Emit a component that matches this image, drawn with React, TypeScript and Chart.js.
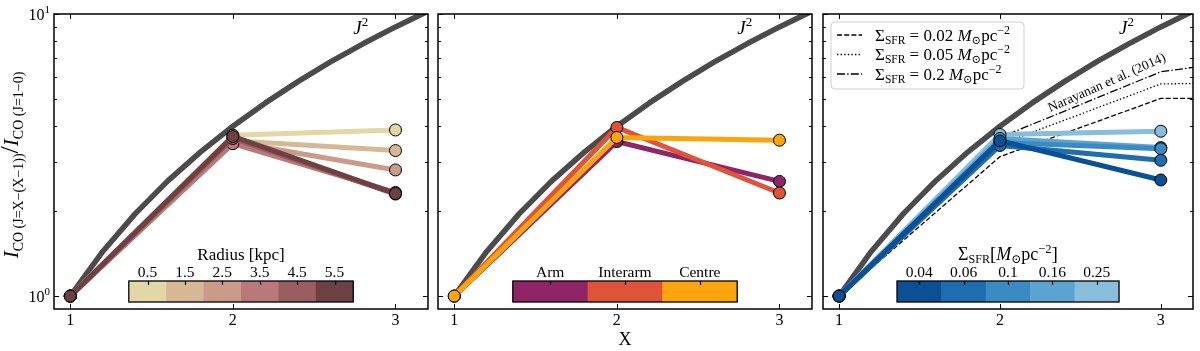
import React, { useEffect, useRef } from 'react';
import { Chart, registerables } from 'chart.js';

Chart.register(...registerables);

// ---------------- data ----------------
const X_VALUES = [1, 2, 3];
const X_TICKS = [1, 2, 3];
const Y_MAJOR_TICKS = [1, 10];
const Y_MINOR_TICKS = [2, 3, 4, 5, 6, 7, 8, 9];
const Y_TICK_EXPONENTS = ['0', '1'];

// J^2 reference curve
const J2_X = [1, 1.2, 1.4, 1.6, 1.8, 2, 2.2, 2.4, 2.6, 2.8, 3, 3.2];
const J2_Y = [1, 1.44, 1.96, 2.56, 3.24, 4, 4.84, 5.76, 6.76, 7.84, 9, 10.24];

// Panel 1: radius bins
const RADIUS_LABELS = ['0.5', '1.5', '2.5', '3.5', '4.5', '5.5'];
const RADIUS_COLORS = ['#e3d6a7', '#d6b896', '#cb9a88', '#b9787a', '#9b5e60', '#6d4043'];
const RADIUS_RATIOS = [
  [1, 3.72, 3.88],
  [1, 3.55, 3.28],
  [1, 3.52, 2.8],
  [1, 3.47, 2.33],
  [1, 3.62, 2.3],
  [1, 3.68, 2.31],
];

// Panel 2: environments
const ENV_LABELS = ['Arm', 'Interarm', 'Centre'];
const ENV_COLORS = ['#8f2466', '#df533b', '#fba40b'];
const ENV_RATIOS = [
  [1, 3.53, 2.55],
  [1, 3.96, 2.32],
  [1, 3.65, 3.57],
];

// Panel 3: SFR surface density bins
const SFR_LABELS = ['0.04', '0.06', '0.1', '0.16', '0.25'];
const SFR_COLORS = ['#0b4f95', '#1f6db1', '#3a8bc4', '#5ba3d1', '#88bddc'];
const SFR_RATIOS = [
  [1, 3.55, 2.58],
  [1, 3.42, 3.03],
  [1, 3.5, 3.33],
  [1, 3.62, 3.36],
  [1, 3.74, 3.84],
];

// Narayanan et al. (2014) model curves
const NARAYANAN_X = [1, 2, 3, 4];
const NARAYANAN_002 = [1, 3.12, 5.02, 5.02];
const NARAYANAN_005 = [1, 3.45, 5.65, 5.75];
const NARAYANAN_02 = [1, 3.65, 6.24, 7.45];
const NARAYANAN_LEGEND = ['0.02', '0.05', '0.2'];

// ---------------- layout ----------------
const W = 1200;
const H = 351;
const PANEL_LEFTS = [54, 438, 823];
const PANEL_WIDTH = 374;
const PLOT_TOP = 14;
const PLOT_BOTTOM = 309;
const X_MIN = 0.9;
const X_MAX = 3.2;
const Y_MIN = 0.9;
const Y_MAX = 10;
const J2_LABEL_POS = { x: 2.74, y: 8.5 };
const NARAYANAN_LABEL_POS = { x: 2.665, y: 5.69 };

const SERIF = '"Liberation Serif", "DejaVu Serif", serif';
const font = (size: number, italic = false) => `${italic ? 'italic ' : ''}${size}px ${SERIF}`;

type Seg = { t: string; size: number; italic?: boolean; dy?: number };

function measureRich(ctx: CanvasRenderingContext2D, segs: Seg[]) {
  let w = 0;
  for (const s of segs) {
    ctx.font = font(s.size, s.italic);
    w += ctx.measureText(s.t).width;
  }
  return w;
}

function drawRich(
  ctx: CanvasRenderingContext2D,
  segs: Seg[],
  x: number,
  y: number,
  align: 'left' | 'center' | 'right' = 'left'
) {
  const total = measureRich(ctx, segs);
  let cx = align === 'center' ? x - total / 2 : align === 'right' ? x - total : x;
  ctx.textAlign = 'left';
  ctx.textBaseline = 'alphabetic';
  for (const s of segs) {
    ctx.font = font(s.size, s.italic);
    ctx.fillText(s.t, cx, y + (s.dy || 0));
    cx += ctx.measureText(s.t).width;
  }
}

const Y_TITLE: Seg[] = [
  { t: 'I', size: 21, italic: true },
  { t: 'CO (J=X−(X−1))', size: 14, dy: 5 },
  { t: '/', size: 26 },
  { t: 'I', size: 21, italic: true },
  { t: 'CO (J=1−0)', size: 14, dy: 5 },
];

const SFR_TITLE: Seg[] = [
  { t: 'Σ', size: 18 },
  { t: 'SFR', size: 12, dy: 3 },
  { t: '[', size: 19 },
  { t: 'M', size: 18, italic: true },
  { t: '⊙', size: 12, dy: 3 },
  { t: 'pc', size: 18 },
  { t: '−2', size: 12.5, dy: -7 },
  { t: ']', size: 19 },
];

const RADIUS_TITLE: Seg[] = [{ t: 'Radius [kpc]', size: 17 }];

const LEGEND_DASHES: number[][] = [[5, 2.2], [1.4, 2.2], [8, 2.2, 1.4, 2.2]];

type Series = { label: string; color: string; values: number[] };
type PanelCfg = {
  left: number;
  series: Series[];
  darkOnTop: boolean;
  cbLabels: string[];
  cbColors: string[];
  cbTitle: Seg[] | null;
  yTickLabels: boolean;
  yTitle: boolean;
  xTitle: boolean;
  narayanan: boolean;
};

const mkSeries = (labels: string[], colors: string[], vals: number[][]): Series[] =>
  labels.map((l, i) => ({ label: l, color: colors[i], values: vals[i] }));

const PANELS: PanelCfg[] = [
  {
    left: PANEL_LEFTS[0],
    series: mkSeries(RADIUS_LABELS, RADIUS_COLORS, RADIUS_RATIOS),
    darkOnTop: false,
    cbLabels: RADIUS_LABELS,
    cbColors: RADIUS_COLORS,
    cbTitle: RADIUS_TITLE,
    yTickLabels: true,
    yTitle: true,
    xTitle: false,
    narayanan: false,
  },
  {
    left: PANEL_LEFTS[1],
    series: mkSeries(ENV_LABELS, ENV_COLORS, ENV_RATIOS),
    darkOnTop: false,
    cbLabels: ENV_LABELS,
    cbColors: ENV_COLORS,
    cbTitle: null,
    yTickLabels: false,
    yTitle: false,
    xTitle: true,
    narayanan: false,
  },
  {
    left: PANEL_LEFTS[2],
    series: mkSeries(SFR_LABELS, SFR_COLORS, SFR_RATIOS),
    darkOnTop: true,
    cbLabels: SFR_LABELS,
    cbColors: SFR_COLORS,
    cbTitle: SFR_TITLE,
    yTickLabels: false,
    yTitle: false,
    xTitle: false,
    narayanan: true,
  },
];

function makeDecor(cfg: PanelCfg) {
  return {
    id: 'decor',
    afterDraw(chart: any) {
      const ctx: CanvasRenderingContext2D = chart.ctx;
      const a = chart.chartArea;
      const xs = chart.scales.x;
      const ys = chart.scales.y;
      ctx.save();
      ctx.fillStyle = '#000';
      ctx.strokeStyle = '#000';
      ctx.setLineDash([]);

      // inward ticks on all four sides
      ctx.lineWidth = 1;
      ctx.beginPath();
      for (const v of X_TICKS) {
        const px = Math.round(xs.getPixelForValue(v)) + 0.5;
        ctx.moveTo(px, a.bottom);
        ctx.lineTo(px, a.bottom - 5);
        ctx.moveTo(px, a.top);
        ctx.lineTo(px, a.top + 5);
      }
      const yTick = (v: number, len: number) => {
        const py = Math.round(ys.getPixelForValue(v)) + 0.5;
        ctx.moveTo(a.left, py);
        ctx.lineTo(a.left + len, py);
        ctx.moveTo(a.right, py);
        ctx.lineTo(a.right - len, py);
      };
      Y_MAJOR_TICKS.forEach((v) => yTick(v, 5));
      Y_MINOR_TICKS.forEach((v) => yTick(v, 3));
      ctx.stroke();

      // spines
      ctx.lineWidth = 1.5;
      ctx.strokeRect(a.left, a.top, a.right - a.left, a.bottom - a.top);

      // y tick labels
      if (cfg.yTickLabels) {
        Y_MAJOR_TICKS.forEach((v, i) => {
          const py = ys.getPixelForValue(v);
          drawRich(
            ctx,
            [
              { t: '10', size: 16 },
              { t: Y_TICK_EXPONENTS[i], size: 11, dy: -7 },
            ],
            a.left - 4,
            py + 6,
            'right'
          );
        });
      }

      // y title
      if (cfg.yTitle) {
        ctx.save();
        ctx.translate(18, 165);
        ctx.rotate(-Math.PI / 2);
        drawRich(ctx, Y_TITLE, 0, 0, 'center');
        ctx.restore();
      }

      // x title
      if (cfg.xTitle) {
        drawRich(ctx, [{ t: 'X', size: 18 }], (a.left + a.right) / 2, 345, 'center');
      }

      // J^2 label
      drawRich(
        ctx,
        [
          { t: 'J', size: 19, italic: true },
          { t: '2', size: 13, dy: -8 },
        ],
        xs.getPixelForValue(J2_LABEL_POS.x),
        ys.getPixelForValue(J2_LABEL_POS.y),
        'left'
      );

      // Narayanan label + legend
      if (cfg.narayanan) {
        ctx.save();
        ctx.translate(xs.getPixelForValue(NARAYANAN_LABEL_POS.x), ys.getPixelForValue(NARAYANAN_LABEL_POS.y));
        ctx.rotate((-24 * Math.PI) / 180);
        ctx.font = font(13.5);
        ctx.textAlign = 'center';
        ctx.textBaseline = 'middle';
        ctx.fillText('Narayanan et al. (2014)', 0, 0);
        ctx.restore();

        const lx = a.left + 8;
        const ly = a.top + 8;
        const lw = 193;
        const lh = 67;
        ctx.beginPath();
        (ctx as any).roundRect(lx, ly, lw, lh, 4);
        ctx.fillStyle = 'rgba(255,255,255,0.8)';
        ctx.fill();
        ctx.strokeStyle = '#d0d0d0';
        ctx.lineWidth = 1;
        ctx.stroke();
        ctx.fillStyle = '#000';
        ctx.strokeStyle = '#000';
        NARAYANAN_LEGEND.forEach((val, i) => {
          const ry = a.top + 21 + i * 19.5;
          ctx.save();
          ctx.lineWidth = 1.3;
          ctx.setLineDash(LEGEND_DASHES[i]);
          ctx.beginPath();
          ctx.moveTo(a.left + 14, ry);
          ctx.lineTo(a.left + 39, ry);
          ctx.stroke();
          ctx.restore();
          drawRich(
            ctx,
            [
              { t: 'Σ', size: 17 },
              { t: 'SFR', size: 11.5, dy: 3 },
              { t: ` = ${val} `, size: 17 },
              { t: 'M', size: 17, italic: true },
              { t: '⊙', size: 11.5, dy: 3 },
              { t: 'pc', size: 17 },
              { t: '−2', size: 12, dy: -7 },
            ],
            a.left + 52,
            ry + 5.5,
            'left'
          );
        });
      }

      // colorbar
      const pw = a.right - a.left;
      const cbL = a.left + 0.2 * pw;
      const cbW = 0.6 * pw;
      const cbT = a.bottom - 28;
      const cbH = 21;
      const n = cfg.cbColors.length;
      const sw = cbW / n;
      cfg.cbColors.forEach((c, i) => {
        ctx.fillStyle = c;
        ctx.fillRect(cbL + i * sw, cbT, sw + 0.5, cbH);
      });
      ctx.strokeStyle = '#000';
      ctx.lineWidth = 1.2;
      ctx.beginPath();
      for (let i = 0; i < n; i++) {
        const cx = Math.round(cbL + (i + 0.5) * sw) + 0.5;
        ctx.moveTo(cx, cbT);
        ctx.lineTo(cx, cbT + 4);
      }
      ctx.stroke();
      ctx.lineWidth = 1.3;
      ctx.strokeRect(cbL, cbT, cbW, cbH);
      ctx.fillStyle = '#000';
      cfg.cbLabels.forEach((l, i) => {
        drawRich(ctx, [{ t: l, size: 15.5 }], cbL + (i + 0.5) * sw, cbT - 4, 'center');
      });
      if (cfg.cbTitle) {
        drawRich(ctx, cfg.cbTitle, cbL + cbW / 2, cbT - 21, 'center');
      }
      ctx.restore();
    },
  };
}

function buildConfig(cfg: PanelCfg): any {
  const datasets: any[] = [];
  datasets.push({
    label: 'J2',
    data: J2_X.map((x, i) => ({ x, y: J2_Y[i] })),
    borderColor: '#4b4b4b',
    borderWidth: 5.5,
    pointRadius: 0,
    borderJoinStyle: 'round',
    tension: 0,
    clip: 0,
    order: 100,
  });
  if (cfg.narayanan) {
    const nar = [NARAYANAN_002, NARAYANAN_005, NARAYANAN_02];
    nar.forEach((vals, i) => {
      datasets.push({
        label: `Narayanan ${NARAYANAN_LEGEND[i]}`,
        data: NARAYANAN_X.map((x, j) => ({ x, y: vals[j] })),
        borderColor: '#000',
        borderWidth: 1.3,
        borderDash: LEGEND_DASHES[i],
        pointRadius: 0,
        tension: 0,
        clip: 0,
        order: 60 - i,
      });
    });
  }
  cfg.series.forEach((s, i) => {
    datasets.push({
      label: s.label,
      data: X_VALUES.map((x, j) => ({ x, y: s.values[j] })),
      borderColor: s.color,
      backgroundColor: s.color,
      borderWidth: 5,
      pointRadius: 6,
      pointBackgroundColor: s.color,
      pointBorderColor: '#000',
      pointBorderWidth: 1,
      tension: 0,
      clip: 0,
      order: cfg.darkOnTop ? 20 + i : 40 - i,
    });
  });

  return {
    type: 'line',
    data: { datasets },
    options: {
      responsive: false,
      animation: false,
      devicePixelRatio: 1,
      events: [],
      layout: {
        padding: { left: cfg.left, right: W - cfg.left - PANEL_WIDTH, top: PLOT_TOP, bottom: 0 },
      },
      plugins: { legend: { display: false }, tooltip: { enabled: false } },
      scales: {
        x: {
          type: 'linear',
          min: X_MIN,
          max: X_MAX,
          afterBuildTicks: (s: any) => {
            s.ticks = X_TICKS.map((v) => ({ value: v }));
          },
          afterFit: (s: any) => {
            s.height = H - PLOT_BOTTOM;
          },
          grid: { display: false },
          border: { display: false },
          ticks: {
            color: '#000',
            font: { family: SERIF, size: 16 },
            padding: -6,
            maxRotation: 0,
            autoSkip: false,
            callback: (v: any) => String(v),
          },
        },
        y: {
          type: 'logarithmic',
          min: Y_MIN,
          max: Y_MAX,
          display: false,
        },
      },
    },
    plugins: [makeDecor(cfg)],
  };
}

export default function App() {
  const r0 = useRef<HTMLCanvasElement>(null);
  const r1 = useRef<HTMLCanvasElement>(null);
  const r2 = useRef<HTMLCanvasElement>(null);
  const refs = [r0, r1, r2];

  useEffect(() => {
    const charts = PANELS.map((cfg, i) => new Chart(refs[i].current as HTMLCanvasElement, buildConfig(cfg)));
    return () => charts.forEach((c) => c.destroy());
  }, []);

  return (
    <div
      style={{
        position: 'absolute',
        left: 0,
        top: 0,
        width: W,
        height: H,
        background: '#fff',
        overflow: 'hidden',
      }}
    >
      {PANELS.map((_, i) => (
        <canvas
          key={i}
          ref={refs[i]}
          width={W}
          height={H}
          style={{ position: 'absolute', left: 0, top: 0, width: W, height: H }}
        />
      ))}
    </div>
  );
}
